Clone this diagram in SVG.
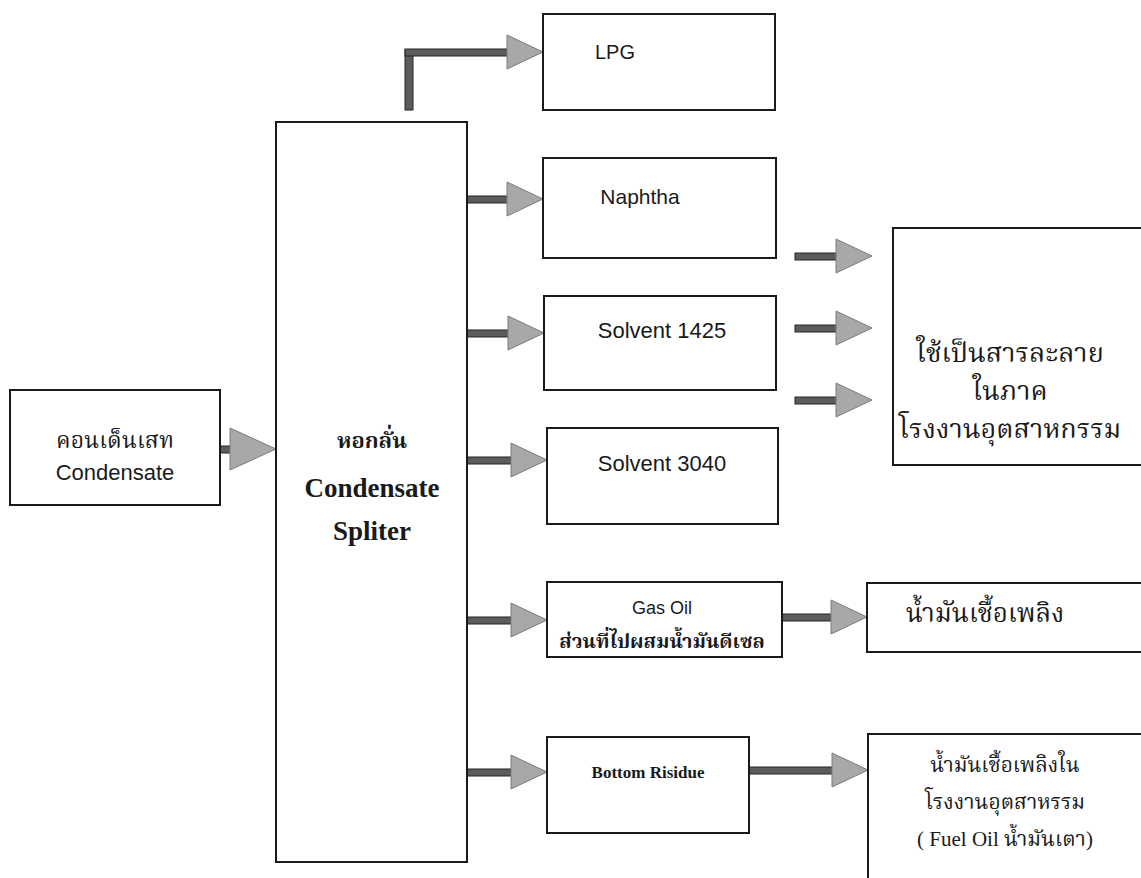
<svg xmlns="http://www.w3.org/2000/svg" xmlns:xlink="http://www.w3.org/1999/xlink" width="1141" height="878" viewBox="0 0 1141 878">
  <style>
    .box { fill: #ffffff; stroke: #1a1a1a; stroke-width: 2; }
    .sans { font-family: "Liberation Sans", Arial, sans-serif; fill: #1a1a1a; text-anchor: middle; }
    .serifb { font-family: "Liberation Serif", "Times New Roman", serif; font-weight: bold; fill: #1a1a1a; text-anchor: middle; }
    .thai { font-family: "Liberation Serif", "Noto Serif Thai", "Noto Sans Thai", "DejaVu Sans", serif; fill: #1a1a1a; text-anchor: middle; }
    .shaft { fill: #5c5c5c; stroke: #262626; stroke-width: 1; }
    .head { fill: #a8a8a8; stroke: #7c7c7c; stroke-width: 1; }
  </style>
  <defs>
    <!-- arrowhead with its tip at the origin, pointing right -->
    <polygon id="ah" class="head" points="-36,-17 0,0 -36,17"/>
    <polygon id="ahBig" class="head" points="-46,-21 0,0 -46,21"/>
  </defs>

  <rect width="1141" height="878" fill="#ffffff"/>

  <!-- connectors -->
  <g id="connectors">
    <!-- tower top to LPG (elbow) -->
    <rect class="shaft" x="405" y="50" width="8" height="60"/>
    <rect class="shaft" x="405" y="49" width="104" height="7"/>
    <use xlink:href="#ah" x="543" y="52"/>
    <!-- feed to tower -->
    <rect class="shaft" x="220" y="446" width="12" height="7"/>
    <use xlink:href="#ahBig" x="276" y="449"/>
    <!-- tower side draws -->
    <rect class="shaft" x="467" y="196" width="42" height="7"/>
    <use xlink:href="#ah" x="543" y="199"/>
    <rect class="shaft" x="467" y="330" width="42" height="7"/>
    <use xlink:href="#ah" x="544" y="333"/>
    <rect class="shaft" x="467" y="457" width="45" height="7"/>
    <use xlink:href="#ah" x="547" y="460"/>
    <rect class="shaft" x="467" y="617" width="45" height="7"/>
    <use xlink:href="#ah" x="547" y="620"/>
    <rect class="shaft" x="467" y="769" width="45" height="7"/>
    <use xlink:href="#ah" x="547" y="772"/>
    <!-- solvents to industrial use -->
    <rect class="shaft" x="795" y="253" width="43" height="7"/>
    <use xlink:href="#ah" x="872" y="256"/>
    <rect class="shaft" x="795" y="325" width="43" height="7"/>
    <use xlink:href="#ah" x="872" y="328"/>
    <rect class="shaft" x="795" y="397" width="43" height="7"/>
    <use xlink:href="#ah" x="872" y="400"/>
    <!-- gas oil to fuel -->
    <rect class="shaft" x="782" y="614" width="52" height="7"/>
    <use xlink:href="#ah" x="867" y="617"/>
    <!-- bottom residue to fuel oil -->
    <rect class="shaft" x="749" y="767" width="86" height="7"/>
    <use xlink:href="#ah" x="868" y="770"/>
  </g>

  <g id="feed">
    <rect class="box" x="10" y="390" width="210" height="115"/>
    <text class="thai" x="115" y="448" font-size="23">คอนเด็นเสท</text>
    <text class="sans" x="115" y="480" font-size="22">Condensate</text>
  </g>

  <g id="tower">
    <rect class="box" x="276" y="122" width="191" height="740"/>
    <text class="thai" x="372" y="448" font-size="22" font-weight="bold">หอกลั่น</text>
    <text class="serifb" x="372" y="497" font-size="27">Condensate</text>
    <text class="serifb" x="372" y="540" font-size="27">Spliter</text>
  </g>

  <g id="lpg">
    <rect class="box" x="543" y="14" width="232" height="96"/>
    <text class="sans" x="615" y="59" font-size="20">LPG</text>
  </g>

  <g id="naphtha">
    <rect class="box" x="543" y="158" width="233" height="100"/>
    <text class="sans" x="640" y="204" font-size="21">Naphtha</text>
  </g>

  <g id="solvent1425">
    <rect class="box" x="544" y="296" width="232" height="94"/>
    <text class="sans" x="662" y="338" font-size="22">Solvent 1425</text>
  </g>

  <g id="solvent3040">
    <rect class="box" x="547" y="428" width="231" height="96"/>
    <text class="sans" x="662" y="471" font-size="22">Solvent 3040</text>
  </g>

  <g id="gasoil">
    <rect class="box" x="547" y="582" width="235" height="75"/>
    <text class="sans" x="662" y="614" font-size="18">Gas Oil</text>
    <text class="thai" x="662" y="648" font-size="20" font-weight="bold">ส่วนที่ไปผสมน้ำมันดีเซล</text>
  </g>

  <g id="bottom">
    <rect class="box" x="547" y="737" width="202" height="96"/>
    <text class="serifb" x="648" y="778" font-size="17">Bottom Risidue</text>
  </g>

  <g id="solvent-use">
    <rect class="box" x="893" y="228" width="270" height="237"/>
    <text class="thai" x="1010" y="362" font-size="27">ใช้เป็นสารละลาย</text>
    <text class="thai" x="1010" y="400" font-size="27">ในภาค</text>
    <text class="thai" x="1010" y="438" font-size="27">โรงงานอุตสาหกรรม</text>
  </g>

  <g id="fuel">
    <rect class="box" x="867" y="583" width="290" height="69"/>
    <text class="thai" x="985" y="622" font-size="26">น้ำมันเชื้อเพลิง</text>
  </g>

  <g id="fuel-oil">
    <rect class="box" x="868" y="734" width="290" height="170"/>
    <text class="thai" x="1005" y="772" font-size="21">น้ำมันเชื้อเพลิงใน</text>
    <text class="thai" x="1005" y="809" font-size="21">โรงงานอุตสาหรรม</text>
    <text class="thai" x="1005" y="846" font-size="21">( Fuel Oil น้ำมันเตา)</text>
  </g>
</svg>
